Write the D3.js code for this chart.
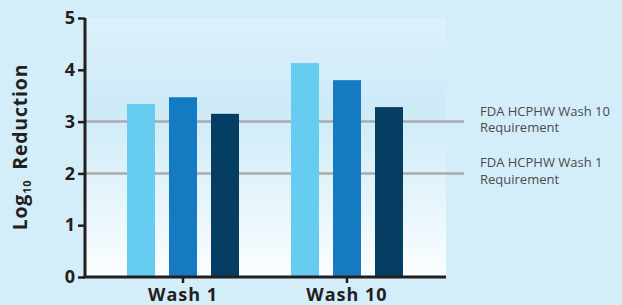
<!DOCTYPE html>
<html>
<head>
<meta charset="utf-8">
<script src="https://cdn.jsdelivr.net/npm/d3@7"></script>
<style>
  html, body { margin: 0; padding: 0; background: #d4eef9; }
  svg { display: block; }
  text { font-family: "Open Sans", sans-serif; }
</style>
</head>
<body>
<svg id="chart" width="622" height="305"></svg>
<script>
// data
const categories = ["Wash 1", "Wash 10"];
const seriesLight = [3.34, 4.13];
const seriesMid = [3.47, 3.80];
const seriesDark = [3.15, 3.28];
const seriesColors = ["#67cdf0", "#147bc2", "#053e62"];
const yTicks = [0, 1, 2, 3, 4, 5];
const refValues = [3, 2];
const refLabels = [["FDA HCPHW Wash 10", "Requirement"], ["FDA HCPHW Wash 1", "Requirement"]];

const svg = d3.select("#chart");
const plotLeft = 85, plotRight = 446, plotTop = 18, plotBottom = 277;

// background gradient of the plot panel
const defs = svg.append("defs");
const grad = defs.append("linearGradient")
    .attr("id", "panel").attr("x1", 0).attr("y1", 0).attr("x2", 0).attr("y2", 1);
grad.append("stop").attr("offset", "0%").attr("stop-color", "#dcf1fb");
grad.append("stop").attr("offset", "35%").attr("stop-color", "#cdeaf7");
grad.append("stop").attr("offset", "100%").attr("stop-color", "#fbfeff");

svg.append("rect")
    .attr("x", plotLeft).attr("y", plotTop)
    .attr("width", plotRight - plotLeft).attr("height", plotBottom - plotTop)
    .attr("fill", "url(#panel)");

const y = d3.scaleLinear().domain([0, 5]).range([plotBottom, plotTop]);
const x0 = d3.scaleBand().domain(categories).range([101, 429]);
const x1 = d3.scaleBand().domain([0, 1, 2]).range([0, 112]).paddingInner(1 / 3);

// reference lines
svg.selectAll(".ref")
    .data(refValues)
    .enter().append("line")
    .attr("x1", plotLeft).attr("x2", 464)
    .attr("y1", d => y(d)).attr("y2", d => y(d))
    .attr("stroke", "#aaaaaa").attr("stroke-width", 2.5);

// bars
const series = [seriesLight, seriesMid, seriesDark];
const groups = svg.selectAll(".grp")
    .data(categories)
    .enter().append("g")
    .attr("transform", d => `translate(${x0(d) + x0.bandwidth() / 2 - 56},0)`);

groups.selectAll("rect")
    .data((d, i) => series.map((s, k) => ({ k: k, v: s[i] })))
    .enter().append("rect")
    .attr("x", d => x1(d.k))
    .attr("width", x1.bandwidth())
    .attr("y", d => y(d.v))
    .attr("height", d => plotBottom - y(d.v))
    .attr("fill", d => seriesColors[d.k]);

// y axis
const yAxis = svg.append("g")
    .attr("transform", `translate(${plotLeft},0)`)
    .call(d3.axisLeft(y).tickValues(yTicks).tickSize(7).tickPadding(3).tickFormat(d3.format("d")));
yAxis.select(".domain").attr("stroke", "#231f20").attr("stroke-width", 3).attr("d", `M0,${plotTop}V${plotBottom}`);
yAxis.selectAll(".tick line").attr("stroke", "#231f20").attr("stroke-width", 2.5);
yAxis.selectAll(".tick text")
    .attr("fill", "#231f20")
    .style("font-family", "'Open Sans', sans-serif")
    .style("font-size", "18px").style("font-weight", "bold");

// x axis
const xAxis = svg.append("g")
    .attr("transform", `translate(0,${plotBottom})`)
    .call(d3.axisBottom(x0).tickSize(6).tickPadding(5));
xAxis.select(".domain").attr("stroke", "#231f20").attr("stroke-width", 3).attr("d", `M${plotLeft - 1.5},0H${plotRight}`);
xAxis.selectAll(".tick line").attr("stroke", "#231f20").attr("stroke-width", 2.5);
xAxis.selectAll(".tick text")
    .attr("fill", "#231f20")
    .style("font-family", "'Open Sans', sans-serif")
    .style("font-size", "18px").style("font-weight", "bold")
    .style("letter-spacing", "1px");

// y axis title
const title = svg.append("text")
    .attr("transform", "translate(27,147) rotate(-90)")
    .attr("text-anchor", "middle")
    .attr("fill", "#231f20")
    .style("font-size", "19.5px").style("font-weight", "bold")
    .style("letter-spacing", "0.8px");
title.append("tspan").text("Log");
title.append("tspan").attr("dy", 4).style("font-size", "11px").text("10");
title.append("tspan").attr("dy", -4).attr("dx", 4).text(" Reduction");

// reference line labels
refLabels.forEach((lines, i) => {
    const t = svg.append("text")
        .attr("x", 480).attr("y", y(refValues[i]) - 6)
        .attr("fill", "#4a4a4a")
        .style("font-size", "13px");
    lines.forEach((ln, j) => {
        t.append("tspan").attr("x", 480).attr("dy", j === 0 ? 0 : 16.5).text(ln);
    });
});
</script>
</body>
</html>
